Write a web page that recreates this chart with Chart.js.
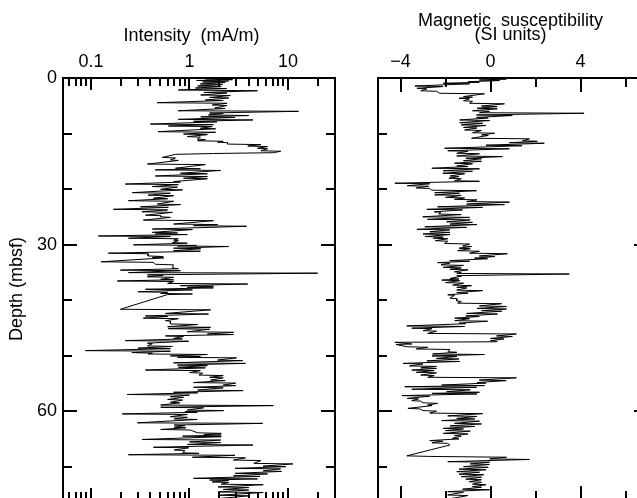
<!DOCTYPE html>
<html>
<head>
<meta charset="utf-8">
<script src="https://cdn.jsdelivr.net/npm/chart.js@4/dist/chart.umd.min.js"></script>
<style>
  html, body { margin: 0; padding: 0; background: #fff; overflow: hidden; }
  #wrap { position: relative; width: 637px; height: 498px; overflow: hidden; background: #fff; }
  #intensity { position: absolute; left: 0; top: 0; }
  #suscept { position: absolute; left: 337px; top: 0; }
</style>
</head>
<body>
<div id="wrap">
  <canvas id="intensity" width="337" height="520" style="width:337px;height:520px"></canvas>
  <canvas id="suscept" width="323" height="520" style="width:323px;height:520px"></canvas>
</div>
<script>
// ---- Intensity of magnetisation (mA/m) against depth (mbsf) ----
const intensityDepth = [
  0.2,0.3,0.45,0.55,0.72,0.82,1.08,1.18,1.44,1.54,
  1.8,1.9,2.16,2.3,2.6,2.7,3.06,3.16,3.5,3.6,
  3.96,4.06,4.45,4.55,4.86,4.96,5.4,5.5,5.9,6.0,
  6.3,6.4,6.66,6.76,7.0,7.1,7.45,7.55,7.8,7.9,
  8.3,8.4,8.65,8.75,9.05,9.15,9.67,9.77,10.1,10.2,
  10.55,10.65,11.0,11.1,11.3,11.4,11.55,11.65,11.9,12.0,
  12.25,12.35,12.65,12.75,13.1,13.2,13.45,13.6,13.75,14.3,
  14.4,14.75,14.85,15.5,15.6,16.25,16.35,16.55,16.65,17.15,
  17.25,17.65,17.75,18.05,18.15,18.65,18.75,19.1,19.2,19.55,
  19.65,20.05,20.15,20.65,20.75,21.1,21.2,21.65,21.75,22.1,
  22.2,22.7,22.8,23.2,23.3,23.65,23.75,24.1,24.2,24.7,
  24.8,25.0,25.1,25.6,25.7,26.3,26.4,26.6,26.7,27.2,
  27.3,27.8,27.9,28.1,28.2,28.45,28.55,28.85,28.95,29.2,
  29.3,29.65,29.75,30.05,30.15,30.25,30.35,30.65,30.75,31.1,
  31.2,31.55,31.65,32.05,32.15,32.3,32.4,33.1,33.2,33.55,
  33.65,34.0,34.1,34.25,34.35,34.6,34.7,35.05,35.15,35.45,
  35.55,35.8,35.9,36.25,36.35,36.55,36.65,37.0,37.1,37.4,
  37.5,37.7,37.8,38.05,38.15,38.5,38.6,38.8,38.9,39.0,
  41.65,41.75,42.4,42.5,42.85,42.95,43.25,43.35,43.7,43.8,
  44.3,44.4,44.8,44.9,45.15,45.25,45.7,45.8,46.1,46.2,
  46.45,46.55,46.9,47.0,47.3,47.4,47.75,47.85,48.25,48.35,
  48.65,48.75,49.1,49.2,49.45,49.55,49.7,49.8,50.05,50.15,
  50.3,50.4,50.8,50.9,51.3,51.4,51.7,51.8,52.1,52.2,
  52.6,52.7,53.05,53.15,53.5,53.6,53.9,54.0,54.4,54.5,
  54.85,54.95,55.3,55.4,55.7,55.8,56.2,56.3,56.6,56.7,
  57.0,57.1,57.4,57.5,57.9,58.0,58.4,58.5,58.9,59.0,
  59.3,59.4,59.8,59.9,60.1,60.2,60.5,60.6,61.0,61.1,
  61.4,61.5,62.1,62.2,62.5,62.6,62.9,63.0,63.3,63.4,
  63.9,64.0,64.2,64.3,64.5,64.6,65.1,65.2,65.55,65.65,
  66.0,66.1,66.5,66.6,67.0,67.1,67.5,67.6,67.85,67.95,
  68.3,68.4,68.8,68.9,69.4,69.5,69.9,70.0,70.3,70.4,
  70.75,70.85,71.2,71.3,71.65,71.75,72.1,72.2,72.4,72.5,
  72.75,72.85,73.15,73.25,73.65,73.75,74.1,74.2,74.55,74.65,
  75.15,75.25,75.7,75.8
];
const intensityValue = [
  1.45,2.74,1.18,2.49,1.36,2.3,1.29,2.17,1.21,2.1,
  1.15,2.38,0.77,4.9,1.4,2.4,1.3,2.6,1.6,2.5,
  1.45,2.2,0.47,2.4,1.7,2.4,1.8,2.3,0.77,12.8,
  1.6,2.2,1.56,4.0,1.3,2.9,0.77,4.4,1.1,1.9,
  0.40,1.75,0.61,1.7,1.29,1.84,0.48,1.84,0.87,1.52,
  0.95,1.29,1.2,1.45,1.21,2.2,1.93,2.43,2.43,5.3,
  3.9,6.2,4.9,6.2,5.3,8.43,7.1,1.75,0.72,0.53,
  0.72,0.64,0.77,0.374,1.45,0.72,1.29,0.45,2.07,0.81,
  1.52,0.45,1.52,0.87,1.52,0.69,0.81,0.223,0.77,0.42,
  0.755,0.51,0.85,0.263,0.64,0.38,0.69,0.43,0.60,0.24,
  0.69,0.47,0.81,0.318,0.61,0.169,0.60,0.33,0.67,0.357,
  0.51,0.51,0.64,0.34,1.75,0.69,1.93,1.10,3.8,0.42,
  1.07,0.42,0.755,0.45,0.95,0.119,0.64,0.24,0.77,0.69,
  0.77,0.67,0.95,0.27,1.18,0.755,2.5,0.69,1.3,0.69,
  1.29,0.15,0.38,0.38,0.54,0.42,0.55,0.127,0.43,0.45,
  0.69,0.67,0.69,0.67,0.77,0.199,0.81,0.24,20.0,0.374,
  0.54,0.374,0.69,0.51,0.69,0.185,0.69,0.60,3.9,0.81,
  1.75,0.95,1.75,0.357,1.07,0.30,0.60,0.51,1.07,0.60,
  0.199,1.64,0.57,1.56,0.357,0.60,0.34,0.77,0.57,0.64,
  0.64,1.21,0.60,1.64,0.61,1.6,0.95,2.8,1.52,2.8,
  0.57,0.87,0.69,0.85,0.223,0.98,0.374,0.42,0.374,0.67,
  0.30,0.64,0.088,0.64,0.26,0.42,0.38,1.52,0.64,1.29,
  0.755,3.0,1.93,3.46,0.69,3.7,0.755,1.52,0.77,1.45,
  0.357,1.29,1.0,1.36,1.25,2.2,1.6,2.2,1.64,2.3,
  1.10,2.94,2.2,2.94,1.10,2.2,1.21,3.5,0.69,1.21,
  0.234,1.0,0.64,0.87,0.60,0.85,0.64,0.8,0.51,7.1,
  0.51,1.39,0.95,2.22,0.9,1.2,0.208,0.95,0.64,0.95,
  0.7,1.2,0.296,5.53,0.7,0.9,0.7,0.92,0.51,1.02,
  1.21,2.1,1.4,2.1,0.85,2.1,0.33,2.07,1.0,2.07,
  0.95,4.4,0.43,0.98,0.7,0.9,0.85,1.25,0.24,2.9,
  1.07,3.7,2.8,5.3,4.5,11.2,5.6,9.5,2.9,8.4,
  5.6,8.6,2.9,6.2,2.8,5.2,1.10,4.9,1.6,2.5,
  1.7,2.5,2.1,5.6,1.95,4.0,2.2,4.0,1.95,5.6,
  1.95,4.0,2.1,3.5
];

// ---- Magnetic susceptibility (SI units) against depth (mbsf) ----
const susceptDepth = [
  0.1,0.2,0.36,0.46,0.67,0.77,0.95,1.05,1.44,1.54,
  1.85,1.95,2.3,2.4,2.75,2.85,3.35,3.45,3.65,3.75,
  4.1,4.2,4.55,4.65,5.05,5.15,5.45,5.55,5.9,6.0,
  6.25,6.35,6.66,6.76,7.1,7.2,7.56,7.66,8.05,8.15,
  8.45,8.55,8.9,9.0,9.36,9.46,9.85,9.95,10.25,10.35,
  10.85,10.95,11.3,11.4,11.65,11.75,12.1,12.2,12.65,12.75,
  13.1,13.2,13.55,13.65,14.05,14.15,14.45,14.55,14.9,15.0,
  15.35,15.45,15.85,15.95,16.25,16.35,16.7,16.8,17.15,17.25,
  17.65,17.75,18.05,18.15,18.5,18.6,18.95,19.05,19.4,19.5,
  19.8,19.9,20.2,20.3,20.65,20.75,21.05,21.15,21.5,21.6,
  21.85,21.95,22.25,22.35,22.7,22.8,23.2,23.3,23.65,23.75,
  24.1,24.2,24.5,24.6,25.0,25.1,25.45,25.55,25.9,26.0,
  26.3,26.4,26.8,26.9,27.25,27.35,27.7,27.8,28.1,28.2,
  28.55,28.65,28.85,28.95,29.3,29.4,29.8,29.9,30.25,30.35,
  30.65,30.75,31.1,31.2,31.55,31.65,32.05,32.15,32.45,32.55,
  32.9,33.0,33.25,33.35,33.65,33.75,34.1,34.2,34.45,34.55,
  34.9,35.0,35.2,35.3,35.6,35.7,36.1,36.2,36.4,36.5,
  36.85,36.95,37.3,37.4,37.7,37.8,38.2,38.3,38.65,38.75,
  39.05,39.15,39.65,39.75,40.15,40.25,40.55,40.65,41.05,41.15,
  41.5,41.6,41.9,42.0,42.4,42.5,42.85,42.95,43.25,43.35,
  43.7,43.8,44.15,44.25,44.65,44.75,45.05,45.15,45.5,45.6,
  46.0,46.1,46.45,46.55,46.9,47.0,47.3,47.4,47.5,47.6,
  47.9,48.0,48.4,48.5,48.8,48.9,49.3,49.4,49.7,49.8,
  50.05,50.15,50.5,50.6,50.95,51.05,51.4,51.5,51.85,51.95,
  52.2,52.3,52.6,52.7,53.0,53.1,53.5,53.6,53.9,54.0,
  54.4,54.5,54.85,54.95,55.3,55.4,55.6,55.7,56.05,56.15,
  56.5,56.6,56.8,56.9,57.2,57.3,57.7,57.8,58.1,58.2,
  58.5,58.6,58.9,59.0,59.5,59.6,59.9,60.0,60.35,60.45,
  60.85,60.95,61.3,61.4,61.7,61.8,62.2,62.3,62.65,62.75,
  63.1,63.2,63.5,63.6,64.0,64.1,64.4,64.5,64.9,65.0,
  65.3,65.4,65.7,65.8,66.1,68.05,68.15,68.3,68.6,68.7,
  69.1,69.2,69.5,69.6,70.0,70.1,70.45,70.55,70.9,71.0,
  71.35,71.45,71.8,71.9,72.25,72.35,72.7,72.8,73.15,73.25,
  73.6,73.7,74.05,74.15,74.5,74.6,75.1,75.2,75.7,75.8
];
const susceptValue = [
  -0.2,0.7,-0.5,0.4,-1.0,-0.5,-2.1,-0.93,-3.36,-2.12,
  -3.27,-2.83,-3.1,-2.4,-2.26,-0.27,-1.2,-0.8,-1.4,-0.93,
  -1.2,-0.8,-0.93,0.62,-0.4,0.3,-0.6,0.3,-0.8,-0.05,
  -0.49,4.16,-0.62,0.97,-0.62,-0.1,-1.37,-0.04,-1.37,-0.35,
  -1.3,-0.2,-1.2,-0.6,-1.15,-0.4,-0.8,0.18,-0.4,-0.1,
  -0.84,1.73,1.42,2.08,0.84,2.39,-0.2,1.4,-2.04,0.84,
  -1.9,-1.0,-1.5,-0.49,-1.5,0.53,-1.1,-0.4,-1.2,-0.4,
  -1.6,-0.8,-1.5,-1.0,-2.61,-0.49,-2.1,-0.8,-2.12,-1.15,
  -1.8,-1.4,-1.85,-1.3,-1.6,-0.49,-4.25,-2.7,-3.7,-2.75,
  -3.3,-2.7,-2.61,-0.62,-2.48,-1.37,-2.48,-1.3,-2.0,-1.15,
  -1.6,-0.6,-1.06,0.84,-1.06,0.62,-2.35,-0.35,-2.83,-1.24,
  -2.5,-2.2,-2.3,-1.3,-3.01,-0.93,-2.8,-0.9,-1.95,-0.8,
  -1.8,-0.6,-2.92,-1.06,-3.27,-1.81,-2.7,-1.8,-3.0,-1.8,
  -2.9,-2.1,-2.55,-1.9,-2.45,-1.9,-2.04,-0.93,-1.24,-0.84,
  -1.4,-0.9,-1.46,-0.49,-0.93,0.75,-0.5,0.2,-0.71,-0.13,
  -1.81,-0.93,-2.35,-1.81,-2.2,-1.2,-2.1,-1.3,-1.8,-1.0,
  -1.6,-1.3,-1.5,3.5,-1.5,-1.3,-1.8,-1.4,-2.17,-1.37,
  -2.0,-1.2,-1.68,-0.84,-1.5,-1.05,-1.5,-0.35,-1.5,-1.0,
  -1.9,-1.6,-1.8,-1.5,-1.5,-1.3,-1.46,0.49,-0.49,0.71,
  -0.6,0.71,-0.4,0.5,-1.06,0.31,-1.1,-0.5,-1.59,-0.93,
  -1.59,-0.13,-1.4,-1.1,-3.72,-1.15,-3.5,-2.6,-3.0,-2.4,
  -2.79,1.15,0.27,0.97,0.0,0.6,0.0,0.3,0.27,-4.25,
  -3.5,-4.2,-3.72,-2.79,-3.3,-1.8,-1.9,-1.5,-2.57,-0.27,
  -2.6,-1.5,-2.4,-1.4,-2.83,-1.37,-3.89,-3.0,-3.6,-2.4,
  -3.1,-2.4,-3.5,-2.5,-3.3,-2.4,-3.1,-2.5,-2.79,1.15,
  -0.5,0.7,-0.6,-0.2,-2.17,-0.27,-3.81,-0.62,-3.5,-0.9,
  -1.95,-0.49,-2.6,-0.6,-3.94,-2.7,-3.7,-3.2,-3.5,-3.1,
  -3.0,-2.35,-2.8,-2.6,-3.67,-3.14,-3.0,-2.4,-2.7,-0.35,
  -1.9,-0.6,-1.5,-0.7,-2.17,-0.49,-1.6,-0.4,-1.8,-0.7,
  -2.1,-1.2,-2.0,-0.9,-2.1,-1.0,-1.6,-1.3,-1.7,-1.4,
  -2.7,-2.12,-2.6,-1.9,-1.81,-3.72,-2.7,0.71,-0.04,1.73,
  -1.9,-0.04,-0.9,-0.05,-1.2,-0.1,-1.4,-0.2,-1.5,-0.49,
  -1.4,-0.3,-1.3,-0.4,-1.1,-0.4,-0.95,-0.4,-0.8,-0.2,
  -0.8,-0.4,-1.24,-0.04,-1.9,-1.2,-1.9,-1.0,-1.7,-1.0
];

// ---- Axis ticks ----
const depthTicks = [0, 30, 60];
const depthTickLabels = ['0', '30', '60'];
const depthMinorTicks = [10, 20, 40, 50, 70];

const intensityTicks = [0.1, 1, 10];
const intensityTickLabels = ['0.1', '1', '10'];
const intensityMinorTicks = [0.06, 0.07, 0.08, 0.09, 0.2, 0.3, 0.4, 0.5, 0.6, 0.7, 0.8, 0.9,
                             2, 3, 4, 5, 6, 7, 8, 9, 20];

const susceptTicks = [-4, 0, 4];
const susceptTickLabels = ['\u22124', '0', '4'];
const susceptMinorTicks = [-2, 2, 6];

const FONT = '"Liberation Sans", Arial, Helvetica, sans-serif';

function toPoints(depths, values) {
  return depths.map((d, i) => ({ x: values[i], y: d }));
}

function labelFrom(ticks, labels) {
  return (value) => {
    const i = ticks.findIndex(t => Math.abs(t - value) < 1e-9);
    return i >= 0 ? labels[i] : '';
  };
}

// Box frame with inward tick marks on all four sides
const frameTicks = {
  id: 'frameTicks',
  afterDatasetsDraw(chart, args, opts) {
    const { ctx, chartArea: a } = chart;
    const xs = chart.scales.x, ys = chart.scales.y;
    ctx.save();
    ctx.strokeStyle = '#000';
    ctx.lineWidth = 2;
    ctx.lineCap = 'butt';
    ctx.beginPath();
    const xTick = (v, len) => {
      const p = Math.round(xs.getPixelForValue(v));
      ctx.moveTo(p, a.top); ctx.lineTo(p, a.top + len);
      ctx.moveTo(p, a.bottom); ctx.lineTo(p, a.bottom - len);
    };
    const yTick = (v, len) => {
      const p = Math.round(ys.getPixelForValue(v));
      ctx.moveTo(a.left, p); ctx.lineTo(a.left + len, p);
      ctx.moveTo(a.right, p); ctx.lineTo(a.right - len, p);
    };
    opts.xMajor.forEach(v => xTick(v, opts.xMajorLen));
    opts.xMinor.forEach(v => xTick(v, opts.xMinorLen));
    opts.yMajor.forEach(v => yTick(v, opts.yMajorLen));
    opts.yMinor.forEach(v => yTick(v, opts.yMinorLen));
    ctx.stroke();
    ctx.strokeRect(a.left, a.top, a.right - a.left, a.bottom - a.top);
    ctx.restore();
  }
};

const lineDataset = (points) => ({
  data: points,
  showLine: true,
  borderColor: '#000',
  borderWidth: 1,
  pointRadius: 0,
  tension: 0,
  fill: false
});

// Left panel: intensity (log scale)
new Chart(document.getElementById('intensity'), {
  type: 'scatter',
  data: { datasets: [lineDataset(toPoints(intensityDepth, intensityValue))] },
  options: {
    responsive: false,
    animation: false,
    devicePixelRatio: 1,
    events: [],
    layout: { padding: { top: 0, left: 0, right: 2, bottom: 20 } },
    plugins: {
      legend: { display: false },
      tooltip: { enabled: false },
      frameTicks: {
        xMajor: intensityTicks, xMinor: intensityMinorTicks, xMajorLen: 12, xMinorLen: 8,
        yMajor: depthTicks, yMinor: depthMinorTicks, yMajorLen: 14, yMinorLen: 9
      }
    },
    scales: {
      x: {
        type: 'logarithmic',
        position: 'top',
        min: 0.052,
        max: 30,
        afterFit(scale) { scale.height = 78; },
        afterBuildTicks(scale) { scale.ticks = intensityTicks.map(v => ({ value: v })); },
        grid: { display: false, drawTicks: false },
        border: { display: false },
        ticks: {
          callback: labelFrom(intensityTicks, intensityTickLabels),
          font: { family: FONT, size: 18 },
          color: '#000',
          padding: 5,
          maxRotation: 0,
          autoSkip: false
        },
        title: {
          display: true,
          text: 'Intensity  (mA/m)   ',
          font: { family: FONT, size: 18, lineHeight: '14px' },
          color: '#000',
          padding: { top: 29, bottom: 0 }
        }
      },
      y: {
        type: 'linear',
        position: 'left',
        reverse: true,
        min: 0,
        max: 76,
        afterFit(scale) { scale.width = 63; },
        afterBuildTicks(scale) { scale.ticks = depthTicks.map(v => ({ value: v })); },
        grid: { display: false, drawTicks: false },
        border: { display: false },
        ticks: {
          callback: labelFrom(depthTicks, depthTickLabels),
          font: { family: FONT, size: 18 },
          color: '#000',
          padding: 6,
          autoSkip: false
        },
        title: {
          display: true,
          text: 'Depth (mbsf)',
          font: { family: FONT, size: 18, lineHeight: '14px' },
          color: '#000',
          padding: { top: 10, bottom: 0 }
        }
      }
    }
  },
  plugins: [frameTicks]
});

// Right panel: magnetic susceptibility (linear scale)
new Chart(document.getElementById('suscept'), {
  type: 'scatter',
  data: { datasets: [lineDataset(toPoints(susceptDepth, susceptValue))] },
  options: {
    responsive: false,
    animation: false,
    devicePixelRatio: 1,
    events: [],
    layout: { padding: { top: 0, left: 41, right: 12, bottom: 20 } },
    plugins: {
      legend: { display: false },
      tooltip: { enabled: false },
      frameTicks: {
        xMajor: susceptTicks, xMinor: susceptMinorTicks, xMajorLen: 14, xMinorLen: 9,
        yMajor: depthTicks, yMinor: depthMinorTicks, yMajorLen: 14, yMinorLen: 9
      }
    },
    scales: {
      x: {
        type: 'linear',
        position: 'top',
        min: -5,
        max: 7,
        afterFit(scale) { scale.height = 78; },
        afterBuildTicks(scale) { scale.ticks = susceptTicks.map(v => ({ value: v })); },
        grid: { display: false, drawTicks: false },
        border: { display: false },
        ticks: {
          callback: labelFrom(susceptTicks, susceptTickLabels),
          font: { family: FONT, size: 18 },
          color: '#000',
          padding: 5,
          maxRotation: 0,
          autoSkip: false
        },
        title: {
          display: true,
          text: ['Magnetic  susceptibility ', '(SI units) '],
          font: { family: FONT, size: 18, lineHeight: '14px' },
          color: '#000',
          padding: { top: 14, bottom: 0 }
        }
      },
      y: {
        type: 'linear',
        display: false,
        reverse: true,
        min: 0,
        max: 76
      }
    }
  },
  plugins: [frameTicks]
});
</script>
</body>
</html>
